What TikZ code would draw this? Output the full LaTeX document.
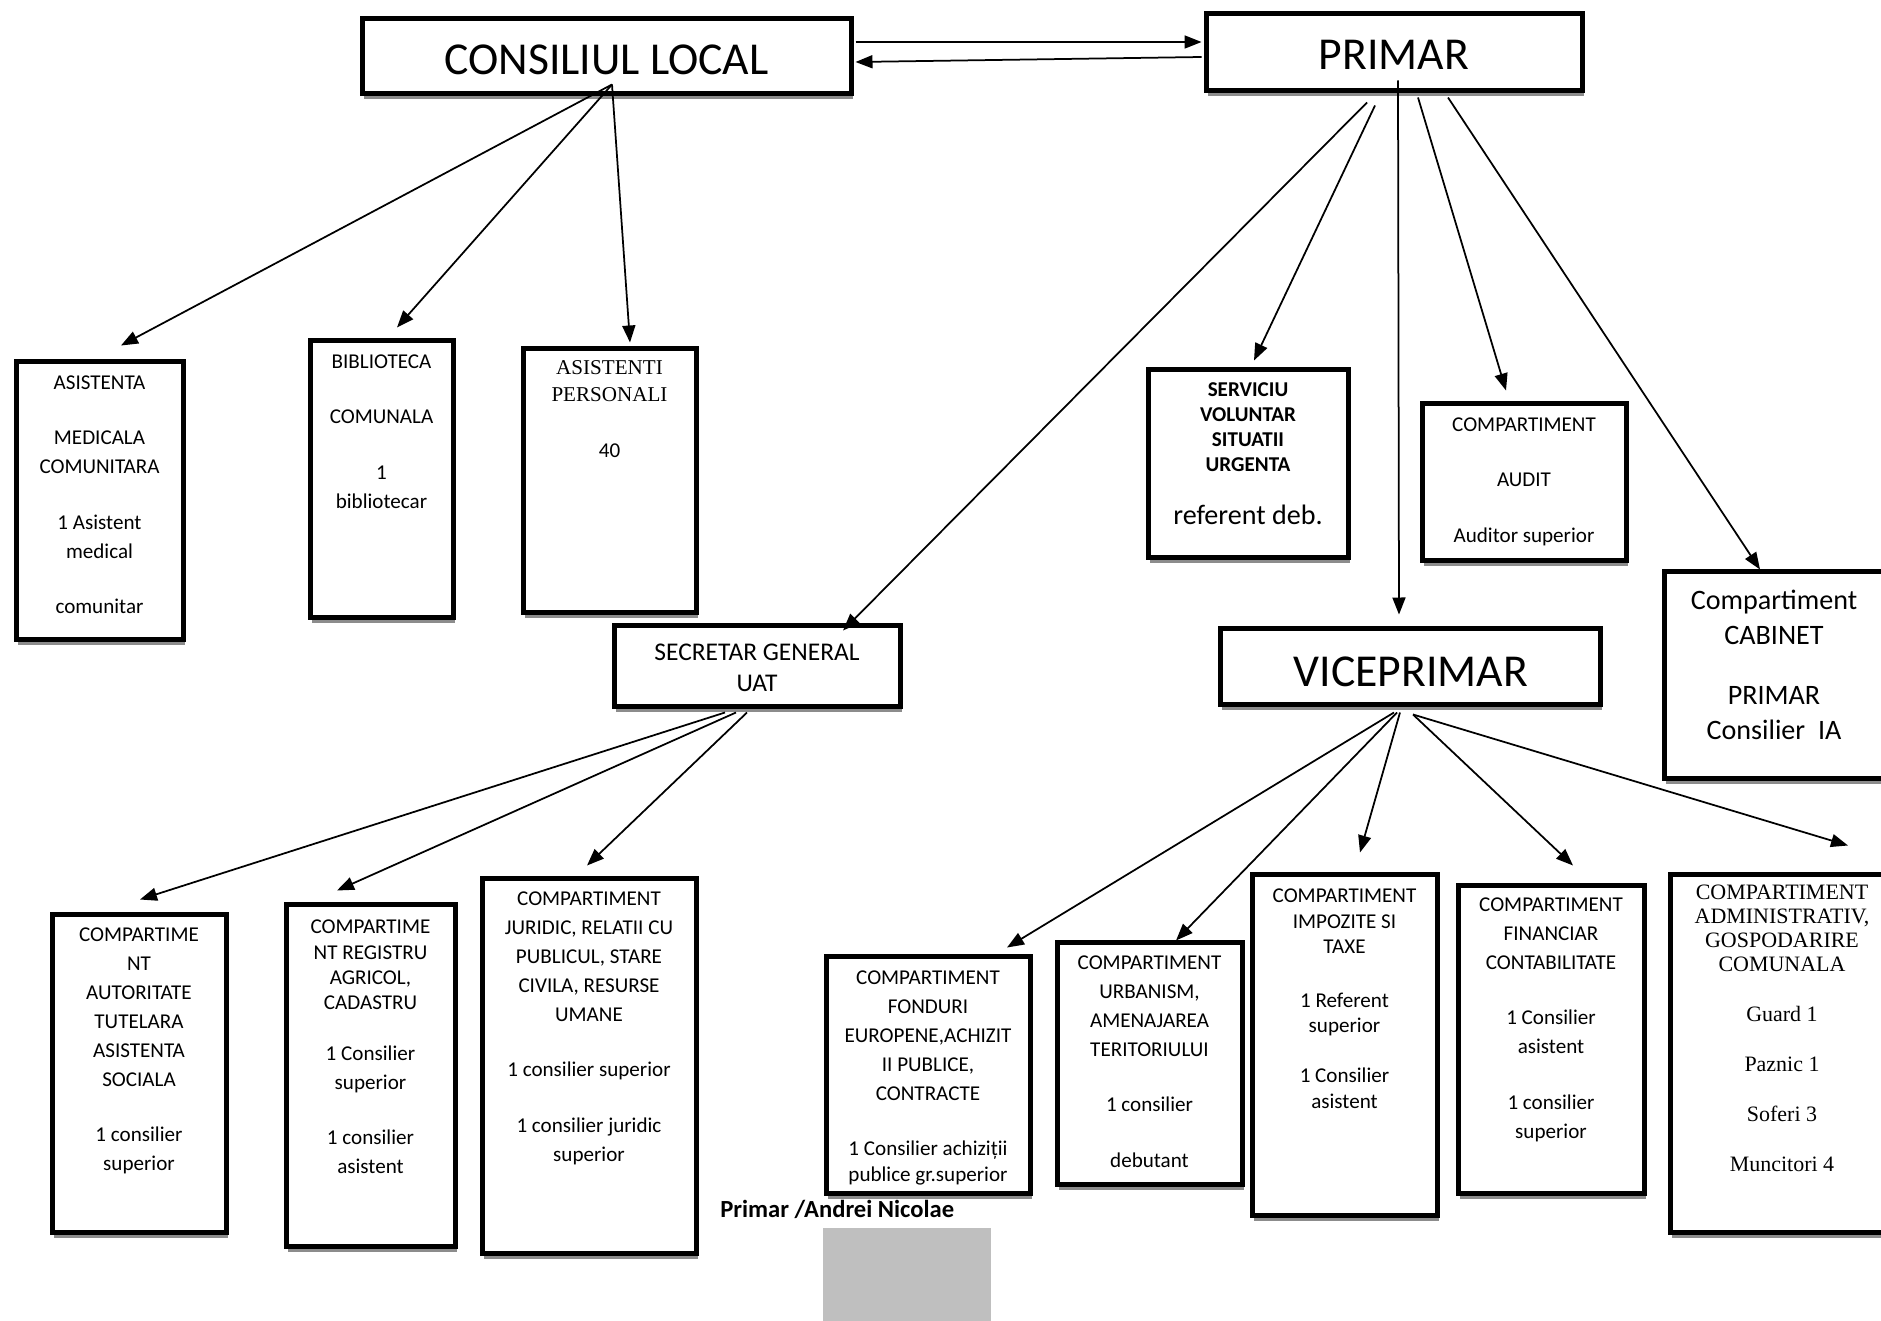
\documentclass[tikz,border=0pt]{standalone}
\usepackage{fontspec}
\setmainfont{Carlito}
\newfontfamily\timesfont{Liberation Serif}
\usetikzlibrary{arrows.meta,calc,fit,shadows}

\begin{document}
\begin{tikzpicture}[x=0.2mm, y=-0.2mm,
    box/.style={draw, line width=1mm, fill=white, inner sep=0pt,
      drop shadow={shadow xshift=0.3mm, shadow yshift=-1.1mm, fill=black!45, opacity=1}},
    txt/.style={anchor=north, align=center, inner sep=0pt, font=\fontsize{12}{16.5}\selectfont},
    serif/.style={txt, font=\timesfont\fontsize{12}{15.4}\selectfont},
    big/.style={inner sep=0pt, font=\fontsize{26}{31}\selectfont},
    arr/.style={line width=0.35mm, -{Triangle[length=3.4mm, width=2.6mm]}}]
  \useasboundingbox (0,0) rectangle (1881,1321);

  %%%%%%%%%%%%%%%%%%%%%%%%%%%%%%%%%%%%%%%%%%%%%%
  %%% Top level: council and mayor
  %%%%%%%%%%%%%%%%%%%%%%%%%%%%%%%%%%%%%%%%%%%%%%
  \node[box, fit={(362,19) (851,94)}] (cl) {};
  \node[box, fit={(1206,14) (1582,91)}] (primar) {};
  \node[big] (cl-t) at ($(cl.center)+(0,3)$) {CONSILIUL LOCAL};
  \node[big] (primar-t) at ($(primar.center)+(0,2)$) {PRIMAR};
  % two way link
  \draw[arr] ($(cl.east)+(2,-14.5)$) -- ($(primar.west)+(-2,-10.5)$);
  \draw[arr] ($(primar.west)+(-2,4.5)$) -- ($(cl.east)+(2,5.5)$);

  %%%%%%%%%%%%%%%%%%%%%%%%%%%%%%%%%%%%%%%%%%%%%%
  %%% Services under the council
  %%%%%%%%%%%%%%%%%%%%%%%%%%%%%%%%%%%%%%%%%%%%%%
  \node[box, fit={(16,361) (183,639)}] (ams) {};
  \node[box, fit={(310,340) (453,617)}] (bib) {};
  \node[box, fit={(523,348) (696,612)}] (asp) {};
  \node[txt] (ams-t) at ($(ams.north)+(0,17)$)
    {ASISTENTA\\[15pt]MEDICALA\\COMUNITARA\\[15pt]1 Asistent\\medical\\[15pt]comunitar};
  \node[txt] (bib-t) at ($(bib.north)+(0,17)$)
    {BIBLIOTECA\\[15pt]COMUNALA\\[15pt]1\\bibliotecar};
  \node[serif] (asp-t) at ($(asp.north)+(0,15)$)
    {ASISTENTI\\PERSONALI\\[16pt]{\rmfamily 40}};
  % arrows from the council
  \foreach \dst/\tx/\ty in {ams/21.5/-13, bib/15.5/-10, asp/20.5/-3}
    \draw[arr] ($(cl.south)+(5.5,-12)$) -- ($(\dst.north)+(\tx,\ty)$);

  %%%%%%%%%%%%%%%%%%%%%%%%%%%%%%%%%%%%%%%%%%%%%%
  %%% Offices under the mayor
  %%%%%%%%%%%%%%%%%%%%%%%%%%%%%%%%%%%%%%%%%%%%%%
  \node[box, fit={(1148,369) (1348,557)}] (svu) {};
  \node[box, fit={(1422,403) (1626,560)}] (aud) {};
  \node[box, fit={(1664,571) (1888,778)}] (cab) {};
  \node[box, fit={(614,625) (900,706)}] (sec) {};
  \node[box, fit={(1220,628) (1600,704)}] (vp) {};
  \node[txt, font=\bfseries\fontsize{12}{14.2}\selectfont] (svu-t) at ($(svu.north)+(0,16)$)
    {SERVICIU\\VOLUNTAR\\SITUATII\\URGENTA\\[16pt]{\mdseries\fontsize{16}{19}\selectfont referent deb.}};
  \node[txt] (aud-t) at ($(aud.north)+(0,17)$)
    {COMPARTIMENT\\[15pt]AUDIT\\[15pt]Auditor superior};
  \node[txt, font=\fontsize{16}{20}\selectfont] (cab-t) at ($(cab.north)+(-2,21)$)
    {Compartiment\\CABINET\\[14pt]PRIMAR\\Consilier\ \ IA};
  \node[inner sep=0pt, align=center, font=\fontsize{14.5}{17.6}\selectfont] (sec-t)
    at ($(sec.center)+(0,2)$) {SECRETAR GENERAL\\UAT};
  \node[big] (vp-t) at ($(vp.center)+(1,6)$) {VICEPRIMAR};
  % arrows from the mayor
  \foreach \sx/\sy/\dst/\tx/\ty in {-27/9/sec/86/8, -19/12/svu/6/-6, 4/-13/vp/-11/-11,
                                    24/4/aud/-18/-10, 54/4/cab/-16/1}
    \draw[arr] ($(primar.south)+(\sx,\sy)$) -- ($(\dst.north)+(\tx,\ty)$);

  %%%%%%%%%%%%%%%%%%%%%%%%%%%%%%%%%%%%%%%%%%%%%%
  %%% Departments under the secretary
  %%%%%%%%%%%%%%%%%%%%%%%%%%%%%%%%%%%%%%%%%%%%%%
  \node[box, fit={(52,914) (226,1232)}] (aut) {};
  \node[box, fit={(286,904) (455,1246)}] (reg) {};
  \node[box, fit={(482,878) (696,1253)}] (jur) {};
  \node[txt] (aut-t) at ($(aut.north)+(0,16)$)
    {COMPARTIME\\NT\\AUTORITATE\\TUTELARA\\ASISTENTA\\SOCIALA\\[15pt]1 consilier\\superior};
  \node[txt] (reg-t) at ($(reg.north)+(0,18)$)
    {COMPARTIME\\[-2pt]NT REGISTRU\\[-2pt]AGRICOL,\\[-2pt]CADASTRU\\[12pt]1 Consilier\\superior\\[15pt]1 consilier\\asistent};
  \node[txt] (jur-t) at ($(jur.north)+(0,16)$)
    {COMPARTIMENT\\JURIDIC, RELATII CU\\PUBLICUL, STARE\\CIVILA, RESURSE\\UMANE\\[15pt]1 consilier superior\\[15pt]1 consilier juridic\\superior};
  \foreach \sx/\dst/\tx/\ty in {-32/aut/1/-12, -21/reg/-33.5/-11, -10/jur/-2/-10}
    \draw[arr] ($(sec.south)+(\sx,4)$) -- ($(\dst.north)+(\tx,\ty)$);

  %%%%%%%%%%%%%%%%%%%%%%%%%%%%%%%%%%%%%%%%%%%%%%
  %%% Departments under the deputy mayor
  %%%%%%%%%%%%%%%%%%%%%%%%%%%%%%%%%%%%%%%%%%%%%%
  \node[box, fit={(826,956) (1030,1193)}] (fon) {};
  \node[box, fit={(1057,942) (1242,1184)}] (urb) {};
  \node[box, fit={(1252,874) (1437,1215)}] (imp) {};
  \node[box, fit={(1458,885) (1644,1193)}] (fin) {};
  \node[box, fit={(1670,874) (1894,1232)}] (adm) {};
  \node[txt] (fon-t) at ($(fon.north)+(0,17)$)
    {COMPARTIMENT\\FONDURI\\EUROPENE,ACHIZIT\\II PUBLICE,\\CONTRACTE\\[15pt]1 Consilier achiziții\\[-2pt]publice gr.superior};
  \node[txt] (urb-t) at ($(urb.north)+(0,16)$)
    {COMPARTIMENT\\URBANISM,\\AMENAJAREA\\TERITORIULUI\\[15pt]1 consilier\\[15pt]debutant};
  \node[txt] (imp-t) at ($(imp.north)+(0,17)$)
    {COMPARTIMENT\\[-2pt]IMPOZITE SI\\[-2pt]TAXE\\[14pt]1 Referent\\[-2pt]superior\\[12pt]1 Consilier\\[-2pt]asistent};
  \node[txt] (fin-t) at ($(fin.north)+(0,15)$)
    {COMPARTIMENT\\FINANCIAR\\CONTABILITATE\\[15pt]1 Consilier\\asistent\\[15pt]1 consilier\\superior};
  \node[serif, font=\timesfont\fontsize{12.5}{13.7}\selectfont] (adm-t) at ($(adm.north)+(0,13)$)
    {COMPARTIMENT\\ADMINISTRATIV,\\GOSPODARIRE\\COMUNALA\\[14.8pt]Guard 1\\[14.8pt]Paznic 1\\[14.8pt]Soferi 3\\[14.8pt]Muncitori 4};
  \foreach \sx/\sy/\dst/\tx/\ty in {-16/6/fon/79/-6, -13/6/urb/26.5/1, -10/6/imp/15.5/-19,
                                    3/8/fin/22/-17, 3/8/adm/66/-26}
    \draw[arr] ($(vp.south)+(\sx,\sy)$) -- ($(\dst.north)+(\tx,\ty)$);

  % signature
  \node[inner sep=0pt, anchor=base west, font=\bfseries\fontsize{14}{16}\selectfont] (sign)
    at (720,1217) {Primar /Andrei Nicolae};
  \fill[black!25] (823,1228) rectangle (991,1330);
\end{tikzpicture}
\end{document}
